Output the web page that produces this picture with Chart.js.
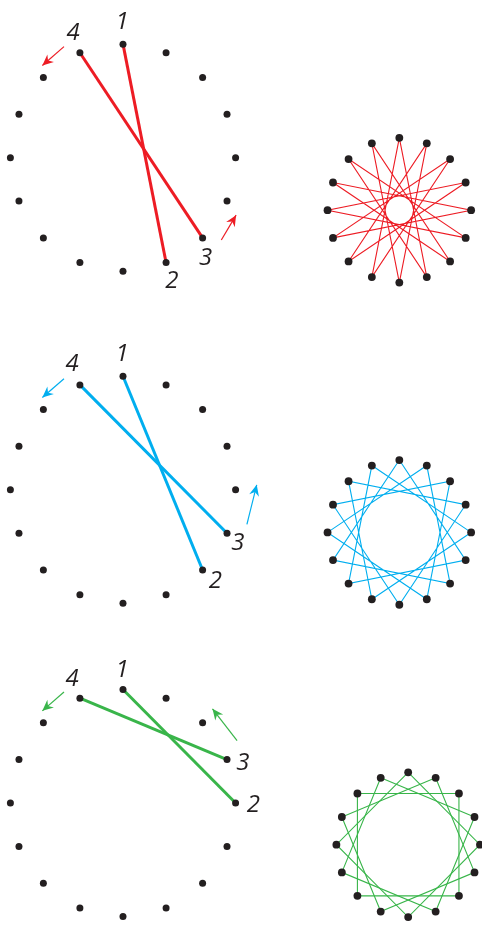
<!DOCTYPE html>
<html lang="en">
<head>
    <meta charset="UTF-8">
    <title>String Art Stars</title>
    <script src="https://cdn.jsdelivr.net/npm/chart.js@4.4.1/dist/chart.umd.min.js"></script>
    <style>
        html, body { margin: 0; padding: 0; background: #fff; }
        #wrap { width: 482px; height: 927px; position: relative; }
    </style>
</head>
<body>
    <div id="wrap"><canvas id="stars"></canvas></div>

    <script>
        // data
        const POINT_COUNT = 16;
        const chordSteps = [7, 6, 4];          // pins skipped by the two strings, per panel
        const starSteps = [7, 5, 4];           // pins skipped in the finished star on the right
        const pointLabels = ['1', '2', '3', '4'];

        // styles / layout
        const seriesColors = ['#ed1c24', '#00aeef', '#39b54a'];
        const dotColor = '#231f20';
        const panelCenters = [{ x: 121, y: 155 }, { x: 121, y: 490 }, { x: 121, y: 806 }];
        const bigRadius = 114.5;
        const starCenters = [{ x: 402, y: 208 }, { x: 402, y: 533 }, { x: 411, y: 848 }];
        const starRadius = 73;
        // label offsets from their pin, order 1,2,3,4
        const labelOffsets = [
            [[-1, -22], [6, 19], [3, 20], [-7, -20]],
            [[-1, -22], [13, 11], [11, 10], [-8, -21]],
            [[-1, -20], [18, 2], [16, 4], [-8, -19]]
        ];
        // arrows, offsets from panel centre [tail, tip]
        const arrowLeft = [[-60, -112], [-82, -93]];
        const arrowRight = [
            [[100, 83], [115, 58]],
            [[126, 35], [136, -5]],
            [[116, -63], [91, -95]]
        ];

        function pin(c, r, i) {
            const a = -Math.PI / 2 + i * 2 * Math.PI / POINT_COUNT;
            return { x: c.x + r * Math.cos(a), y: c.y + r * Math.sin(a) };
        }

        function gcd(a, b) { return b ? gcd(b, a % b) : a; }

        const datasets = [];
        const textItems = [];

        chordSteps.forEach((step, p) => {
            const c = panelCenters[p];
            const col = seriesColors[p];
            const pins = [];
            for (let i = 0; i < POINT_COUNT; i++) pins.push(pin(c, bigRadius, i));

            // the pins
            datasets.push({
                data: pins, order: 0, pointRadius: 3.5, pointBackgroundColor: dotColor,
                pointBorderWidth: 0, showLine: false, clip: false
            });

            // two strings: 1 -> 2 and 4 -> 3
            const i1 = 0, i2 = step, i4 = POINT_COUNT - 1, i3 = step - 1;
            [[i1, i2], [i4, i3]].forEach(([a, b]) => {
                datasets.push({
                    data: [pins[a], pins[b]], order: 2, showLine: true, borderColor: col,
                    borderWidth: 3, pointRadius: 0, clip: false
                });
            });

            [i1, i2, i3, i4].forEach((idx, k) => {
                textItems.push({
                    text: pointLabels[k],
                    x: pins[idx].x + labelOffsets[p][k][0],
                    y: pins[idx].y + labelOffsets[p][k][1]
                });
            });

            // arrows
            [arrowLeft, arrowRight[p]].forEach(ar => {
                datasets.push({
                    data: ar.map(o => ({ x: c.x + o[0], y: c.y + o[1] })),
                    order: 1, showLine: true, borderColor: col, borderWidth: 1.2,
                    pointRadius: 0, clip: false, arrow: true
                });
            });

            // small star on the right
            const sStep = starSteps[p];
            const sc = starCenters[p];
            const spins = [];
            for (let i = 0; i < POINT_COUNT; i++) spins.push(pin(sc, starRadius, i));
            const loops = gcd(POINT_COUNT, sStep);
            for (let s = 0; s < loops; s++) {
                const path = [];
                let i = s;
                do { path.push(spins[i]); i = (i + sStep) % POINT_COUNT; } while (i !== s);
                path.push(spins[s]);
                datasets.push({
                    data: path, order: 2, showLine: true, borderColor: col,
                    borderWidth: 1.1, pointRadius: 0, clip: false
                });
            }
            datasets.push({
                data: spins, order: 0, pointRadius: 3.9, pointBackgroundColor: dotColor,
                pointBorderWidth: 0, showLine: false, clip: false
            });
        });

        const decorPlugin = {
            id: 'decor',
            afterDatasetsDraw(chart) {
                const ctx = chart.ctx;
                const xs = chart.scales.x, ys = chart.scales.y;
                ctx.save();
                chart.data.datasets.forEach((ds, di) => {
                    if (!ds.arrow) return;
                    const pts = chart.getDatasetMeta(di).data;
                    const t = pts[0], h = pts[pts.length - 1];
                    const ang = Math.atan2(h.y - t.y, h.x - t.x);
                    ctx.save();
                    ctx.translate(h.x, h.y);
                    ctx.rotate(ang);
                    ctx.fillStyle = ds.borderColor;
                    ctx.beginPath();
                    ctx.moveTo(0, 0);
                    ctx.lineTo(-11, -5);
                    ctx.lineTo(-7.5, 0);
                    ctx.lineTo(-11, 5);
                    ctx.closePath();
                    ctx.fill();
                    ctx.restore();
                });
                ctx.fillStyle = '#231f20';
                ctx.font = 'italic 24px "Open Sans", "Noto Sans", sans-serif';
                ctx.textAlign = 'center';
                ctx.textBaseline = 'middle';
                textItems.forEach(t => {
                    ctx.fillText(t.text, xs.getPixelForValue(t.x), ys.getPixelForValue(t.y));
                });
                ctx.restore();
            }
        };

        new Chart(document.getElementById('stars'), {
            type: 'scatter',
            data: { datasets: datasets },
            options: {
                responsive: true,
                maintainAspectRatio: false,
                animation: false,
                events: [],
                layout: { padding: 0 },
                plugins: { legend: { display: false }, tooltip: { enabled: false } },
                elements: { line: { tension: 0 } },
                scales: {
                    x: { type: 'linear', min: 0, max: 482, display: false },
                    y: { type: 'linear', min: 0, max: 927, reverse: true, display: false }
                }
            },
            plugins: [decorPlugin]
        });
    </script>
</body>
</html>
